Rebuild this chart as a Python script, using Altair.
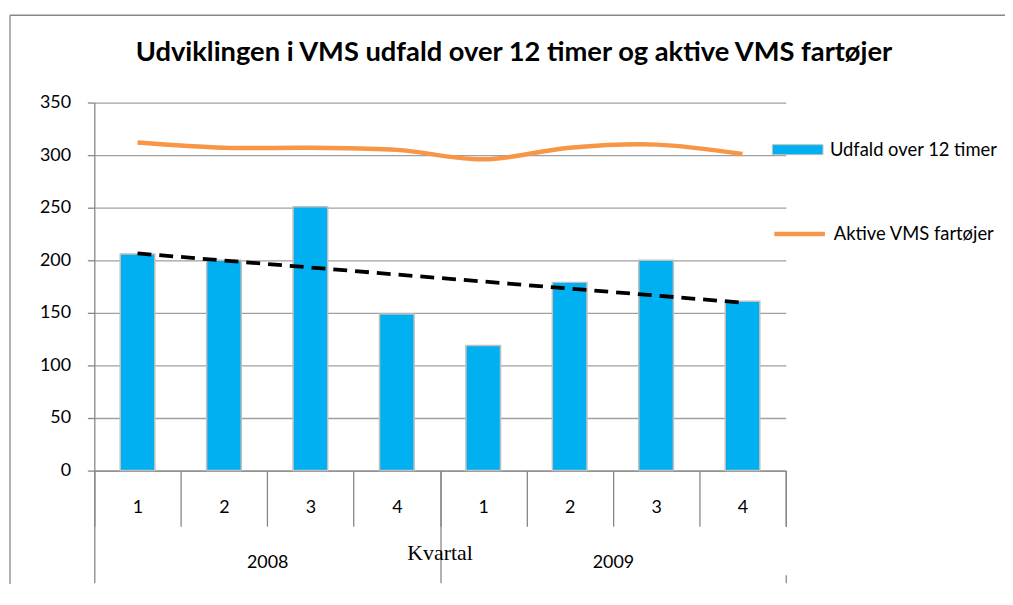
import altair as alt
import pandas as pd
import numpy as np

# ---- data ----
years = ["2008", "2008", "2008", "2008", "2009", "2009", "2009", "2009"]
quarters = ["1", "2", "3", "4", "1", "2", "3", "4"]
udfald = [206, 200, 251, 149, 119, 179, 200, 161]
aktive = [312, 307, 307, 305, 296, 307, 310, 301]
year_labels = ["2008", "2009"]
y_ticks = [0, 50, 100, 150, 200, 250, 300, 350]
bar_name = "Udfald over 12 timer"
line_name = "Aktive VMS fartøjer"
title_text = "Udviklingen i VMS udfald over 12 timer og aktive VMS fartøjer"

periods = [f"{y}-{q}" for y, q in zip(years, quarters)]
idx = np.arange(1, len(udfald) + 1)
slope, intercept = np.polyfit(idx, udfald, 1)
trend = intercept + slope * idx

df = pd.DataFrame({
    "period": periods,
    "udfald": udfald,
    "aktive": aktive,
    "trend": trend,
    "s1": bar_name,
    "s2": line_name,
})
year_df = pd.DataFrame({"year": year_labels})

FONT = "Lato"
GRID = "#A0A0A0"
AXC = "#878787"

x_enc = alt.X(
    "period:N",
    sort=periods,
    scale=alt.Scale(paddingInner=0, paddingOuter=0),
    axis=alt.Axis(
        title=None,
        labelExpr="split(datum.label, '-')[1]",
        tickBand="extent",
        tickSize=56,
        tickColor=AXC,
        tickWidth=1.3,
        domainColor=AXC,
        domainWidth=1.3,
        labelPadding=-19,
        labelBaseline="middle",
        labelAngle=0,
        labelFont=FONT,
        labelFontSize=18,
        labelColor="black",
        grid=False,
    ),
)

y_scale = alt.Scale(domain=[0, 350], nice=False, zero=True)

bars = alt.Chart(df).mark_bar(
    width=alt.RelativeBandSize(0.4), stroke="#BFBFBF", strokeWidth=1.5
).encode(
    x=x_enc,
    y=alt.Y(
        "udfald:Q",
        scale=y_scale,
        axis=alt.Axis(
            title=None,
            values=y_ticks,
            grid=True,
            gridColor=GRID,
            gridWidth=1.3,
            domainColor=AXC,
            domainWidth=1.3,
            tickColor=AXC,
            tickWidth=1.3,
            tickSize=7,
            labelPadding=17,
            labelBaseline="middle",
            labelFont=FONT,
            labelFontSize=18,
            labelColor="black",
        ),
    ),
    fill=alt.Fill(
        "s1:N",
        scale=alt.Scale(domain=[bar_name], range=["#00B0F0"]),
        legend=alt.Legend(
            orient="none",
            legendX=698.5,
            legendY=37,
            title=None,
            padding=0,
            symbolType="M-2.55,-0.5H2.55V0.5H-2.55Z",
            symbolSize=400,
            symbolStrokeColor="#BFBFBF",
            symbolStrokeWidth=1,
            symbolOpacity=1,
            labelOffset=22,
            labelFont=FONT,
            labelFontSize=18.5,
            labelColor="black",
            labelLimit=400,
        ),
    ),
)

line = alt.Chart(df).mark_line(interpolate="catmull-rom", strokeWidth=4.5).encode(
    x=alt.X("period:N", sort=periods),
    y=alt.Y("aktive:Q", scale=y_scale),
    stroke=alt.Stroke(
        "s2:N",
        scale=alt.Scale(domain=[line_name], range=["#F79646"]),
        legend=alt.Legend(
            orient="none",
            legendX=683,
            legendY=104.5,
            title=None,
            padding=0,
            symbolType="stroke",
            symbolSize=2601,
            symbolStrokeWidth=4.5,
            labelOffset=6.5,
            labelFont=FONT,
            labelFontSize=18.5,
            labelColor="black",
            labelLimit=400,
        ),
    ),
)

trend_line = alt.Chart(df).mark_line(
    color="black", strokeWidth=3.8, strokeDash=[14, 8]
).encode(
    x=alt.X("period:N", sort=periods),
    y=alt.Y("trend:Q", scale=y_scale),
)

frame_src = alt.Data(values=[{"a": 1}])
border_top = alt.Chart(frame_src).mark_rule(color=AXC, strokeWidth=1.3).encode(
    x=alt.value(-85), x2=alt.value(960), y=alt.value(-88)
)
border_left = alt.Chart(frame_src).mark_rule(color=AXC, strokeWidth=1.3).encode(
    x=alt.value(-85), y=alt.value(-88), y2=alt.value(520)
)

main = alt.layer(border_top, border_left, bars, line, trend_line)

year_layer = alt.Chart(year_df).mark_point(opacity=0).encode(
    x=alt.X(
        "year:N",
        sort=year_labels,
        scale=alt.Scale(type="band", paddingInner=0, paddingOuter=0),
        axis=alt.Axis(
            orient="bottom",
            title="Kvartal",
            titleFont="Liberation Serif",
            titleFontSize=22,
            titleFontWeight="normal",
            titleColor="black",
            titleX=348,
            titleY=90,
            titleBaseline="alphabetic",
            titleAlign="center",
            domain=False,
            tickBand="extent",
            tickSize=113,
            tickColor=AXC,
            tickWidth=1.3,
            tickDash={"condition": {"test": "datum.value === '2009'", "value": [56, 49, 8]},
                      "value": [113, 1]},
            labelPadding=-20,
            labelBaseline="middle",
            labelAngle=0,
            labelFont=FONT,
            labelFontSize=18,
            labelColor="black",
            grid=False,
        ),
    ),
    y=alt.value(0),
)

chart = alt.layer(main, year_layer).resolve_scale(x="independent").properties(
    width=697,
    height=371,
    autosize=alt.AutoSizeParams(type="none"),
    padding={"left": 87, "top": 93, "right": 221, "bottom": 112},
    title=alt.TitleParams(
        text=title_text,
        font=FONT,
        fontSize=27.5,
        fontWeight="bold",
        color="black",
        anchor="middle",
        dx=74.5,
        offset=0,
        dy=74,
        baseline="alphabetic",
    ),
).configure_view(stroke=None)

chart.save("out.html", embed_options={"renderer": "svg", "actions": False})
